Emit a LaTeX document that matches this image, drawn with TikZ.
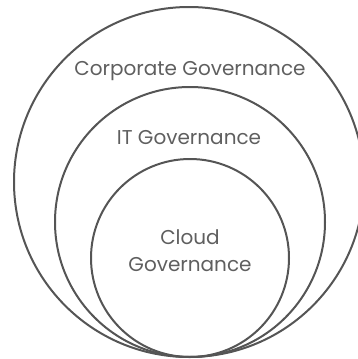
\documentclass[tikz,border=0pt]{standalone}
\usepackage{fontspec}
\setmainfont{Poppins}
\definecolor{ringcol}{HTML}{555555}
\definecolor{txtcol}{HTML}{5F5F5F}
\begin{document}
\begin{tikzpicture}[x=1pt,y=-1pt,
  ring/.style={circle,draw=ringcol,line width=2pt,inner sep=0pt,outer sep=0pt},
  lbl/.style={text=txtcol,font=\fontsize{20}{24}\selectfont,inner sep=0pt,align=center}]
\useasboundingbox (0,0) rectangle (358,359);
\node[ring,minimum size=350pt] (outer) at (189,182) {};
\node[ring,minimum size=270pt] (middle) at (190,222) {};
\node[ring,minimum size=198pt] (inner) at (190,258) {};
\node[lbl] (corp) at (190,71) {Corporate Governance};
\node[lbl] (it) at (189,138) {IT Governance};
\node[lbl,font=\fontsize{20}{27}\selectfont] (cloud) at (190,251) {Cloud\\Governance};
\end{tikzpicture}
\end{document}
